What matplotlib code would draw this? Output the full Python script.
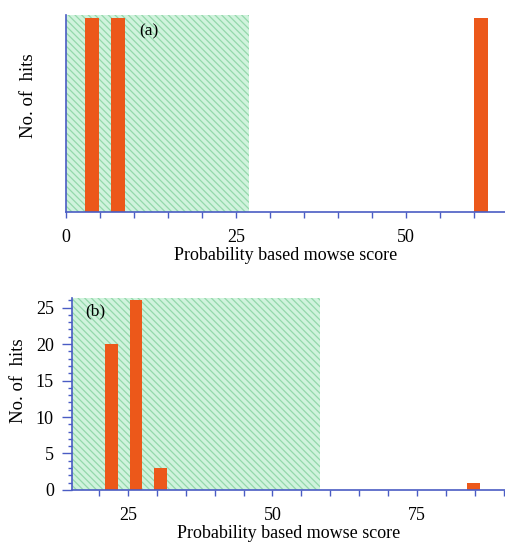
import matplotlib
matplotlib.use("Agg")
import matplotlib.pyplot as plt
from matplotlib.ticker import MultipleLocator

# panel (a): three hits, all full height (no y scale shown)
score_a = [3.9, 7.7, 61.0]
hits_a = [1, 1, 1]
shade_a = (0, 27)

# panel (b)
score_b = [22.2, 26.4, 30.6, 84.8]
hits_b = [20, 26, 3, 1]
shade_b = (15.3, 58.3)

bar_col = '#ec581a'
axis_col = '#4a5cc4'
plt.rcParams['font.family'] = ['Liberation Serif', 'DejaVu Serif']
plt.rcParams['hatch.linewidth'] = 0.9
plt.rcParams['hatch.color'] = '#94d8ab'

fig = plt.figure(figsize=(5.06, 5.42), dpi=100)
ax1 = fig.add_axes([0.130, 0.609, 0.870, 0.363])
ax2 = fig.add_axes([0.142, 0.096, 0.858, 0.354])


def style(ax):
    for s in ['top', 'right']:
        ax.spines[s].set_visible(False)
    for s in ['left', 'bottom']:
        ax.spines[s].set_color(axis_col)
        ax.spines[s].set_linewidth(1.2)
    ax.tick_params(which='both', colors=axis_col, labelcolor='black', labelsize=13, width=1.0)
    ax.tick_params(which='major', length=4, pad=8)
    ax.tick_params(which='minor', length=4)
    ax.set_xlabel('Probability based mowse score', fontsize=13, labelpad=1)
    ax.set_ylabel('No. of  hits', fontsize=13.5)


# --- (a)
ax1.axvspan(*shade_a, facecolor='#d0f3dd', hatch='\\\\\\\\\\', linewidth=0, zorder=0)
ax1.bar(score_a, hits_a, width=2.1, color=bar_col, zorder=2)
ax1.set_xlim(0, 64.7)
ax1.set_ylim(0, 1.015)
ax1.xaxis.set_major_locator(MultipleLocator(25))
ax1.xaxis.set_minor_locator(MultipleLocator(5))
ax1.set_yticks([])
style(ax1)
ax1.yaxis.set_label_coords(-0.066, 0.59)
ax1.text(0.166, 0.918, '(a)', transform=ax1.transAxes, fontsize=12.5, va='center')

# --- (b)
ax2.axvspan(*shade_b, facecolor='#d0f3dd', hatch='\\\\\\\\\\', linewidth=0, zorder=0)
ax2.bar(score_b, hits_b, width=2.2, color=bar_col, zorder=2)
ax2.set_xlim(15.3, 90.4)
ax2.set_ylim(0, 26.3)
ax2.xaxis.set_major_locator(MultipleLocator(25))
ax2.xaxis.set_minor_locator(MultipleLocator(5))
ax2.yaxis.set_major_locator(MultipleLocator(5))
ax2.yaxis.set_minor_locator(MultipleLocator(1))
style(ax2)
ax2.tick_params(axis='y', which='minor', length=3)
ax2.tick_params(axis='y', which='major', length=7, pad=6)
ax2.yaxis.set_label_coords(-0.104, 0.57)
ax2.text(0.03, 0.932, '(b)', transform=ax2.transAxes, fontsize=12.5, va='center')

fig.savefig('out.png', dpi=100)
